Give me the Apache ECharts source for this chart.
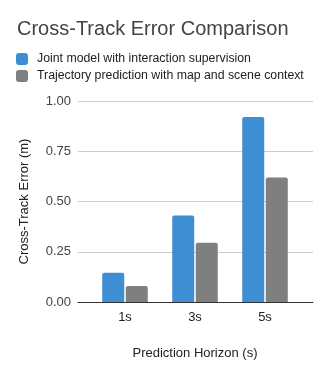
<!DOCTYPE html>
<html>
<head>
<meta charset="utf-8">
<script src="https://cdn.jsdelivr.net/npm/echarts@6/dist/echarts.min.js"></script>
<style>
html, body { margin: 0; padding: 0; background: #fff; }
#chart { width: 330px; height: 371px; }
</style>
</head>
<body>
<div id="chart"></div>
<script>
// data
var categories = ["1s", "3s", "5s"];
var jointModel = [0.145, 0.43, 0.92];
var trajPred = [0.08, 0.295, 0.62];
var yTicks = [0, 0.25, 0.5, 0.75, 1];

var font = "Liberation Sans, Arial, sans-serif";

var myChart = echarts.init(document.getElementById("chart"));
myChart.setOption({
	animation: false,
	textStyle: { fontFamily: font },
	title: {
		text: "Cross-Track Error Comparison",
		left: 12,
		top: 14,
		textStyle: { color: "#444", fontSize: 20, fontWeight: "normal", fontFamily: font }
	},
	legend: {
		orient: "vertical",
		left: 11,
		top: 48,
		itemWidth: 12,
		itemHeight: 12,
		itemGap: 5,
		icon: "roundRect",
		textStyle: { color: "#222", fontSize: 12.3, fontFamily: font, padding: [0, 0, 0, 4] },
		data: ["Joint model with interaction supervision", "Trajectory prediction with map and scene context"]
	},
	// grid 0 carries the gridlines / y labels, grid 1 carries the bars
	grid: [
		{ left: 78, right: 17, top: 101, bottom: 69 },
		{ left: 90, right: 30, top: 101, bottom: 69 }
	],
	xAxis: [{
		gridIndex: 0,
		type: "category",
		data: categories,
		axisLine: { show: true, lineStyle: { color: "#333", width: 1 } },
		axisTick: { show: false },
		axisLabel: { show: false }
	}, {
		gridIndex: 1,
		type: "category",
		data: categories,
		axisLine: { show: false },
		axisTick: { show: false },
		axisLabel: { color: "#222", fontSize: 13, margin: 9, fontFamily: font },
		name: "Prediction Horizon (s)",
		nameLocation: "middle",
		nameGap: 45,
		nameTextStyle: { color: "#222", fontSize: 13, fontFamily: font }
	}],
	yAxis: [{
		gridIndex: 0,
		type: "value",
		min: yTicks[0],
		max: yTicks[yTicks.length - 1],
		interval: 0.25,
		axisLine: { show: false },
		axisTick: { show: false },
		splitLine: { show: true, lineStyle: { color: "#ccc", width: 1 } },
		axisLabel: {
			color: "#444",
			fontSize: 13,
			margin: 7,
			fontFamily: font,
			formatter: function (v) { return v.toFixed(2); }
		},
		name: "Cross-Track Error (m)",
		nameLocation: "middle",
		nameGap: 47,
		nameTextStyle: { color: "#222", fontSize: 13, fontFamily: font }
	}, {
		gridIndex: 1,
		type: "value",
		min: 0,
		max: 1,
		show: false,
		splitLine: { show: false }
	}],
	series: [{
		name: "Joint model with interaction supervision",
		type: "bar",
		xAxisIndex: 1,
		yAxisIndex: 1,
		data: jointModel,
		barWidth: 22,
		barGap: "7%",
		itemStyle: { color: "#3e8ed4", borderRadius: [2, 2, 0, 0] }
	}, {
		name: "Trajectory prediction with map and scene context",
		type: "bar",
		xAxisIndex: 1,
		yAxisIndex: 1,
		data: trajPred,
		barWidth: 22,
		barGap: "7%",
		itemStyle: { color: "#7f7f7f", borderRadius: [2, 2, 0, 0] }
	}]
});
</script>
</body>
</html>
